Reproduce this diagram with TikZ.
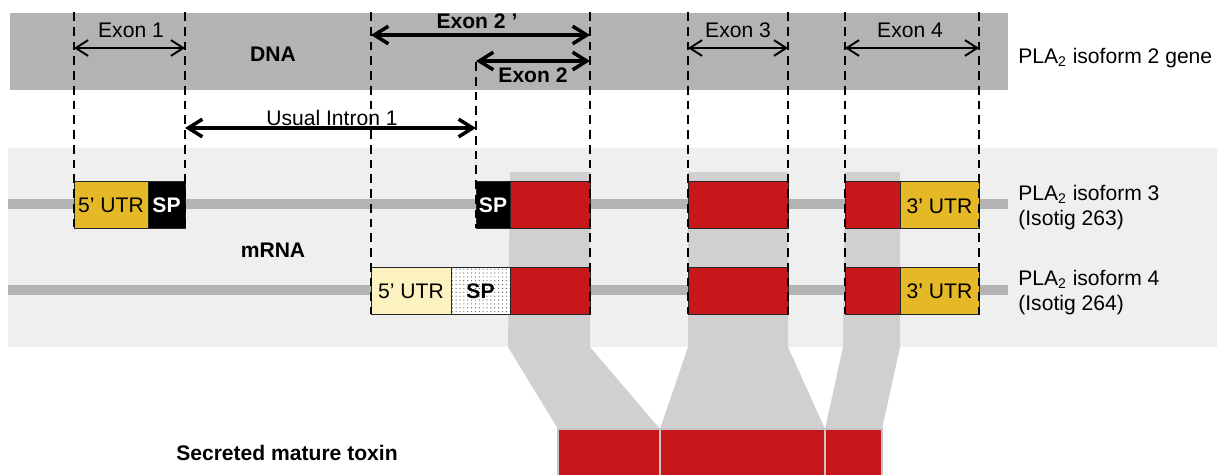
\documentclass[tikz,border=0pt]{standalone}
\usepackage{fontspec}
\setmainfont{Liberation Sans}
\usepackage{tikz}
\usetikzlibrary{arrows.meta,patterns.meta}

\definecolor{dnagray}{HTML}{B3B3B3}
\definecolor{rnaback}{HTML}{EFEFEF}
\definecolor{bandgray}{HTML}{D0D0D0}
\definecolor{exonred}{HTML}{C8171A}
\definecolor{utrgold}{HTML}{E4B826}
\definecolor{utrpale}{HTML}{FBF2BF}

\begin{document}
\begin{tikzpicture}[
    x=0.02cm, y=-0.02cm, line join=miter,
    font=\fontsize{12}{14}\selectfont,
    guide/.style={line width=0.9pt, dash pattern=on 5pt off 3.4pt},
    span/.style={line width=1.1pt,
      {Straight Barb[length=7pt,width=9pt]}-{Straight Barb[length=7pt,width=9pt]}},
    bigspan/.style={line width=2pt,
      {Straight Barb[length=8pt,width=10pt]}-{Straight Barb[length=8pt,width=10pt]}},
    seg/.style={draw=black!85, line width=0.5pt},
    lbl/.style={anchor=base, inner sep=0pt}
  ]

  \useasboundingbox (0,0) rectangle (1221,474);

  % ------------------ Layout ------------------
  \def\dnaTop{13}
  \def\dnaBot{90}
  \def\rnaTop{148}
  \def\rnaBot{347}
  \def\rowAtop{181}
  \def\rowAbot{228}
  \def\rowBtop{267}
  \def\rowBbot{314}
  \def\toxTop{429}

  % ------------------ Backgrounds ------------------
  \fill[dnagray] (10,\dnaTop) rectangle (1008,\dnaBot);
  \fill[rnaback] (8,\rnaTop) rectangle (1217,\rnaBot);

  % ------------------ Projection of coding exons ------------------
  \fill[bandgray] (510,172) -- (590,172) -- (590,\rnaBot) -- (660,\toxTop)
    -- (558,\toxTop) -- (508,\rnaBot) -- cycle;
  \fill[bandgray] (688,172) -- (788,172) -- (788,\rnaBot) -- (825,\toxTop)
    -- (660,\toxTop) -- (688,\rnaBot) -- cycle;
  \fill[bandgray] (845,172) -- (900,172) -- (900,\rnaBot) -- (882,\toxTop)
    -- (825,\toxTop) -- (843,\rnaBot) -- cycle;

  % ------------------ mRNA strands ------------------
  \foreach \y in {204,290}
    \draw[dnagray, line width=0.2cm] (8,\y) -- (1008,\y);

  % ------------------ Isoform 3 segments ------------------
  \foreach \xl/\xr/\col in {74/148/utrgold, 148/185/black, 476/510/black,
      510/590/exonred, 688/788/exonred, 845/900/exonred, 900/979/utrgold}
    \draw[seg, fill=\col] (\xl,\rowAtop) rectangle (\xr,\rowAbot);

  % ------------------ Isoform 4 segments ------------------
  \draw[seg, fill=utrpale] (371,\rowBtop) rectangle (451,\rowBbot);
  \draw[seg, fill=white,
    postaction={pattern={Dots[distance=2.2pt, radius=0.35pt]}, pattern color=black!65}]
    (451,\rowBtop) rectangle (510,\rowBbot);
  \foreach \xl/\xr/\col in {510/590/exonred, 688/788/exonred,
      845/900/exonred, 900/979/utrgold}
    \draw[seg, fill=\col] (\xl,\rowBtop) rectangle (\xr,\rowBbot);

  % ------------------ Segment labels ------------------
  \node[lbl] (utrA5) at (111,212) {5' UTR};
  \node[lbl, text=white, font=\fontsize{12}{14}\selectfont\bfseries] (spA1) at (166.5,212) {SP};
  \node[lbl, text=white, font=\fontsize{12}{14}\selectfont\bfseries] (spA2) at (493,212) {SP};
  \node[lbl] (utrA3) at (939.5,213) {3' UTR};
  \node[lbl] (utrB5) at (411,298) {5' UTR};
  \node[lbl, font=\fontsize{12}{14}\selectfont\bfseries] (spB) at (480.5,298) {SP};
  \node[lbl] (utrB3) at (939.5,298) {3' UTR};

  % ------------------ Exon boundaries ------------------
  \foreach \x/\ya/\yb in {74/12/228, 185/12/228, 371/12/314, 476/62/228,
      590/12/314, 688/12/314, 788/12/314, 845/12/314, 979/12/314}
    \draw[guide] (\x,\ya) -- (\x,\yb);

  % ------------------ Exon spans ------------------
  \coordinate (e1L) at (74,48);   \coordinate (e1R) at (185,48);
  \coordinate (e2pL) at (371,35); \coordinate (e2pR) at (590,35);
  \coordinate (e2L) at (476,61);  \coordinate (e2R) at (590,61);
  \coordinate (e3L) at (688,48);  \coordinate (e3R) at (788,48);
  \coordinate (e4L) at (845,48);  \coordinate (e4R) at (979,48);
  \coordinate (i1L) at (185,128); \coordinate (i1R) at (476,128);

  \draw[span] (e1L) -- (e1R);
  \draw[span] (e3L) -- (e3R);
  \draw[span] (e4L) -- (e4R);
  \draw[bigspan] (e2pL) -- (e2pR);
  \draw[bigspan] (e2L) -- (e2R);
  \draw[bigspan] (i1L) -- (i1R);

  \node[lbl] (exon1) at (131,37) {Exon 1};
  \node[lbl, font=\fontsize{12}{14}\selectfont\bfseries] (exon2p) at (477,28) {Exon 2 '};
  \node[lbl, font=\fontsize{12}{14}\selectfont\bfseries] (exon2) at (533,82) {Exon 2};
  \node[lbl] (exon3) at (738,37) {Exon 3};
  \node[lbl] (exon4) at (910,37) {Exon 4};
  \node[lbl] (intron1) at (332,125) {Usual Intron 1};

  % ------------------ Row labels ------------------
  \node[lbl, font=\fontsize{12}{14}\selectfont\bfseries] (dna) at (273,61) {DNA};
  \node[lbl, font=\fontsize{12}{14}\selectfont\bfseries] (mrna) at (273,257) {mRNA};
  \node[lbl, anchor=base west] (gene) at (1018,63) {PLA\textsubscript{2} isoform 2 gene};
  \node[lbl, anchor=base west] (iso3) at (1018,200) {PLA\textsubscript{2} isoform 3};
  \node[lbl, anchor=base west] (tig3) at (1018,225) {(Isotig 263)};
  \node[lbl, anchor=base west] (iso4) at (1018,285) {PLA\textsubscript{2} isoform 4};
  \node[lbl, anchor=base west] (tig4) at (1018,310) {(Isotig 264)};

  % ------------------ Mature toxin ------------------
  \foreach \xl/\xr in {558/660, 660/825, 825/882}
    \draw[fill=exonred, draw=black!22, line width=0.6pt] (\xl,\toxTop) rectangle (\xr,478);
  \node[lbl, font=\fontsize{12}{14}\selectfont\bfseries] (toxin) at (287,460) {Secreted mature toxin};

\end{tikzpicture}
\end{document}
